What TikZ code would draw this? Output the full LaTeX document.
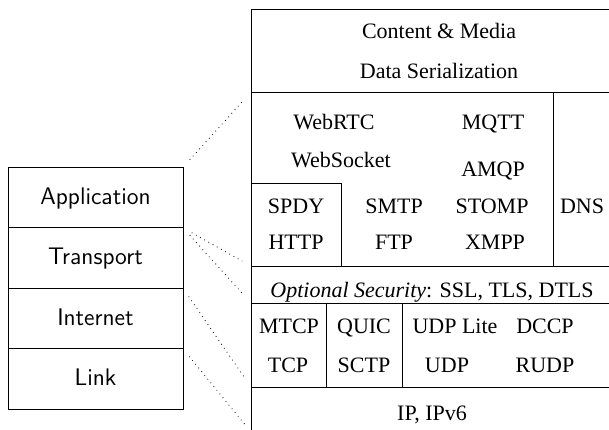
\documentclass[tikz,border=0pt]{standalone}
\usepackage{fontspec}
\setmainfont{Liberation Serif}
\usetikzlibrary{positioning}

\tikzset{
  osibox/.style={draw, outer sep=0pt, minimum width=3.075cm, minimum height=1.063cm,
    text height=0.69em, text depth=0pt, font=\fontsize{12}{14}\sffamily},
  stackrow/.style={draw, outer sep=0pt, inner sep=0pt, minimum width=6.607cm},
  protolbl/.style={anchor=base, inner sep=0pt, font=\fontsize{11}{13}\selectfont},
  maplink/.style={dotted, shorten <=5pt, shorten >=5pt},
}

\begin{document}
\begin{tikzpicture}

  \useasboundingbox (0,0) rectangle (10.702,-7.556);
  \clip (0,0) rectangle (10.702,-7.556);

  % TCP/IP model
  \node[osibox] (l-app) at (1.678,-3.471) {Application};
  \node[osibox, below=0pt of l-app] (l-trans) {Transport};
  \node[osibox, below=0pt of l-trans] (l-inet) {Internet};
  \node[osibox, below=0pt of l-inet] (l-link) {Link};

  % protocol stack
  \node[stackrow, minimum height=1.459cm, anchor=north west] (r-media) at (4.411,-0.158) {};
  \node[stackrow, minimum height=3.058cm, below=0pt of r-media] (r-app) {};
  \node[stackrow, minimum height=0.650cm, below=0pt of r-app] (r-sec) {};
  \node[stackrow, minimum height=1.476cm, below=0pt of r-sec] (r-trans) {};
  \node[stackrow, minimum height=0.791cm, below=0pt of r-trans] (r-ip) {};

  \draw (9.718,-1.617) -- (9.718,-4.674);
  \draw (4.411,-3.216) -| (5.992,-4.674);
  \draw (5.729,-5.325) -- (5.729,-6.801);
  \draw (7.064,-5.325) -- (7.064,-6.801);

  \node[protolbl] (t-content) at (7.715,-0.685) {Content \& Media};
  \node[protolbl] (t-serial) at (7.715,-1.371) {Data Serialization};

  \node[protolbl] (t-webrtc) at (5.869,-2.284) {WebRTC};
  \node[protolbl] (t-mqtt) at (8.664,-2.284) {MQTT};
  \node[protolbl] (t-websocket) at (5.992,-2.952) {WebSocket};
  \node[protolbl] (t-amqp) at (8.664,-3.110) {AMQP};
  \node[protolbl] (t-spdy) at (5.202,-3.743) {SPDY};
  \node[protolbl] (t-http) at (5.202,-4.393) {HTTP};
  \node[protolbl] (t-smtp) at (6.924,-3.743) {SMTP};
  \node[protolbl] (t-ftp) at (6.924,-4.393) {FTP};
  \node[protolbl] (t-stomp) at (8.646,-3.743) {STOMP};
  \node[protolbl] (t-xmpp) at (8.699,-4.393) {XMPP};
  \node[protolbl] (t-dns) at (10.228,-3.743) {DNS};

  \node[protolbl] (t-sec) at (7.592,-5.219) {\textit{Optional Security}: SSL, TLS, DTLS};

  \node[protolbl] (t-mtcp) at (5.079,-5.852) {MTCP};
  \node[protolbl] (t-tcp) at (5.061,-6.537) {TCP};
  \node[protolbl] (t-quic) at (6.397,-5.852) {QUIC};
  \node[protolbl] (t-sctp) at (6.397,-6.537) {SCTP};
  \node[protolbl] (t-udplite) at (7.996,-5.852) {UDP Lite};
  \node[protolbl] (t-udp) at (7.855,-6.537) {UDP};
  \node[protolbl] (t-dccp) at (9.577,-5.852) {DCCP};
  \node[protolbl] (t-rudp) at (9.577,-6.537) {RUDP};

  \node[protolbl] (t-ip) at (7.592,-7.381) {IP, IPv6};

  % mapping between the two
  \draw[maplink] (l-app.north east) -- (r-app.north west);
  \draw[maplink] (l-app.south east) -- (r-app.south west);
  \draw[maplink] (l-app.south east) -- (r-sec.south west);
  \draw[maplink] (l-inet.north east) -- (r-trans.south west);
  \draw[maplink] (l-link.north east) -- (r-ip.south west);

\end{tikzpicture}
\end{document}
